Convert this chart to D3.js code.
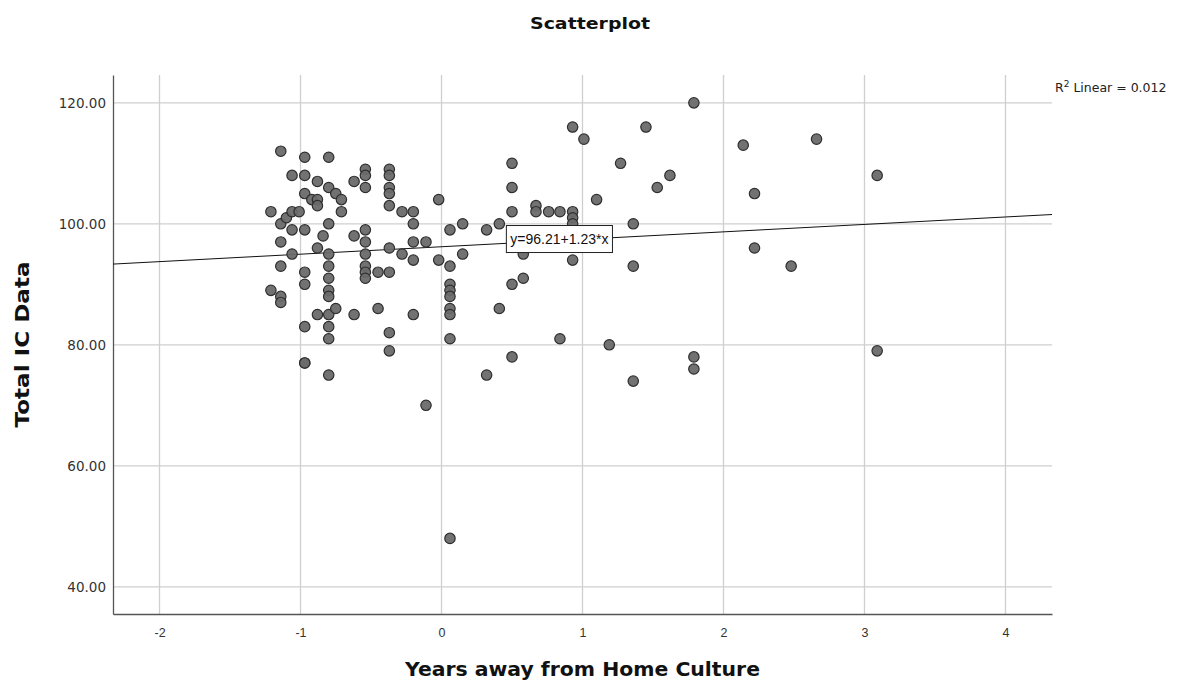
<!DOCTYPE html>
<html>
<head>
<meta charset="utf-8">
<script src="https://cdn.jsdelivr.net/npm/d3@7"></script>
<style>
  body { margin: 0; background: #fff; }
</style>
</head>
<body>
<div id="chart"></div>
<script>
// scatter values (years away, total IC)
const yearsAway = [
  -1.21, -1.21,
  -1.14, -1.14, -1.14, -1.14, -1.14, -1.14,
  -1.10,
  -1.06, -1.06, -1.06, -1.06,
  -1.01,
  -0.97, -0.97, -0.97, -0.97, -0.97, -0.97, -0.97, -0.97, -0.97,
  -0.92,
  -0.88, -0.88, -0.88, -0.88, -0.88,
  -0.84,
  -0.80, -0.80, -0.80, -0.80, -0.80, -0.80, -0.80, -0.80, -0.80, -0.80, -0.80, -0.80,
  -0.75, -0.75,
  -0.71, -0.71,
  -0.62, -0.62, -0.62,
  -0.54, -0.54, -0.54, -0.54, -0.54, -0.54, -0.54, -0.54, -0.54,
  -0.45, -0.45,
  -0.37, -0.37, -0.37, -0.37, -0.37, -0.37, -0.37, -0.37, -0.37,
  -0.28, -0.28,
  -0.20, -0.20, -0.20, -0.20, -0.20,
  -0.11, -0.11,
  -0.02, -0.02,
  0.06, 0.06, 0.06, 0.06, 0.06, 0.06, 0.06, 0.06, 0.06,
  0.15, 0.15,
  0.32, 0.32,
  0.41, 0.41,
  0.50, 0.50, 0.50, 0.50, 0.50,
  0.58, 0.58,
  0.67, 0.67,
  0.76,
  0.84, 0.84,
  0.93, 0.93, 0.93, 0.93, 0.93,
  1.01, 1.10, 1.19, 1.27,
  1.36, 1.36, 1.36,
  1.45, 1.53, 1.62,
  1.79, 1.79, 1.79,
  2.14,
  2.22, 2.22,
  2.48, 2.66,
  3.09, 3.09
];
const totalIC = [
  102, 89,
  112, 100, 97, 93, 88, 87,
  101,
  108, 102, 99, 95,
  102,
  111, 108, 105, 99, 92, 90, 83, 77, 77,
  104,
  107, 104, 103, 96, 85,
  98,
  111, 106, 100, 95, 93, 91, 89, 88, 85, 83, 81, 75,
  105, 86,
  104, 102,
  107, 98, 85,
  109, 108, 106, 99, 97, 95, 93, 92, 91,
  92, 86,
  109, 108, 106, 105, 103, 96, 92, 82, 79,
  102, 95,
  102, 100, 97, 94, 85,
  97, 70,
  104, 94,
  99, 93, 90, 89, 88, 86, 85, 81, 48,
  100, 95,
  99, 75,
  100, 86,
  110, 106, 102, 90, 78,
  95, 91,
  103, 102,
  102,
  102, 81,
  116, 102, 101, 100, 94,
  114, 104, 80, 110,
  100, 93, 74,
  116, 106, 108,
  120, 78, 76,
  113,
  105, 96,
  93, 114,
  108, 79
];

const xTicks = [-2, -1, 0, 1, 2, 3, 4];
const yTicks = [40, 60, 80, 100, 120];
const fitIntercept = 96.21;
const fitSlope = 1.23;
const fitLabel = 'y=96.21+1.23*x';
const rSquared = '0.012';

const W = 1197, H = 684;
const margin = { top: 75, right: 145, bottom: 70, left: 113 };
const plotW = W - margin.left - margin.right;
const plotH = H - margin.top - margin.bottom;
const sans = '"DejaVu Sans", sans-serif';

const svg = d3.select('#chart').append('svg')
  .attr('width', W)
  .attr('height', H);

const x = d3.scaleLinear().domain([-2.33, 4.33]).range([0, plotW]);
const y = d3.scaleLinear().domain([35.5, 124.6]).range([plotH, 0]);

const g = svg.append('g')
  .attr('transform', `translate(${margin.left},${margin.top})`);

// grid
g.selectAll('.vgrid').data(xTicks).enter().append('line')
  .attr('x1', d => x(d)).attr('x2', d => x(d))
  .attr('y1', 0).attr('y2', plotH)
  .attr('stroke', '#cfcfcf').attr('stroke-width', 1.3);
g.selectAll('.hgrid').data(yTicks).enter().append('line')
  .attr('x1', 0).attr('x2', plotW)
  .attr('y1', d => y(d)).attr('y2', d => y(d))
  .attr('stroke', '#cfcfcf').attr('stroke-width', 1.3);

// axes
const xAxis = g.append('g')
  .attr('transform', `translate(0,${plotH})`)
  .call(d3.axisBottom(x).tickValues(xTicks).tickSize(0).tickPadding(14).tickFormat(d => d < 0 ? '-' + Math.abs(d) : d));
const yAxis = g.append('g')
  .call(d3.axisLeft(y).tickValues(yTicks).tickSize(0).tickPadding(7).tickFormat(d3.format('.2f')));
[xAxis, yAxis].forEach(a => {
  a.select('.domain').attr('stroke', '#555').attr('stroke-width', 1.3);
  a.selectAll('text').attr('fill', '#333').attr('font-family', sans).attr('font-size', 13.5);
});
xAxis.selectAll('text').attr('font-size', 12.5)
  .attr('font-family', '"Liberation Sans Narrow", "Liberation Sans", sans-serif');

// fit line
const xd = x.domain();
g.append('line')
  .attr('x1', x(xd[0])).attr('y1', y(fitIntercept + fitSlope * xd[0]))
  .attr('x2', x(xd[1])).attr('y2', y(fitIntercept + fitSlope * xd[1]))
  .attr('stroke', '#111').attr('stroke-width', 1);

// points
const pts = yearsAway.map((v, i) => ({ x: v, y: totalIC[i] }));
g.selectAll('circle').data(pts).enter().append('circle')
  .attr('cx', d => x(d.x))
  .attr('cy', d => y(d.y))
  .attr('r', 5.2)
  .attr('fill', '#6a6a6a')
  .attr('fill-opacity', 0.95)
  .attr('stroke', '#2e2e2e')
  .attr('stroke-width', 1.2);

// fit label, box sized from the text
const labX = 0.46;
const labG = g.append('g')
  .attr('transform', `translate(${x(labX)},${y(fitIntercept + fitSlope * 0.5) - 4})`);
const labT = labG.append('text')
  .attr('x', 4).attr('y', 0)
  .attr('dy', '0.36em')
  .attr('font-size', 14)
  .attr('fill', '#111')
  .attr('font-family', '"Liberation Sans", sans-serif')
  .text(fitLabel);
const tw = labT.node().getComputedTextLength();
labG.insert('rect', 'text')
  .attr('x', 0).attr('y', -13.5)
  .attr('width', tw + 8).attr('height', 27)
  .attr('fill', '#fff').attr('stroke', '#222').attr('stroke-width', 1);

// R squared
const rt = svg.append('text')
  .attr('x', margin.left + plotW + 3)
  .attr('y', 92)
  .attr('font-size', 12.5)
  .attr('fill', '#222')
  .attr('font-family', sans);
rt.append('tspan').text('R');
rt.append('tspan').attr('dy', -5).attr('font-size', 9).text('2');
rt.append('tspan').attr('dy', 5).text(' Linear = ' + rSquared);

// titles
svg.append('text')
  .attr('x', 590)
  .attr('y', 29)
  .attr('text-anchor', 'middle')
  .attr('font-size', 16.5)
  .attr('font-weight', 'bold')
  .attr('font-family', sans)
  .attr('fill', '#111')
  .attr('textLength', 120)
  .attr('lengthAdjust', 'spacingAndGlyphs')
  .text('Scatterplot');
svg.append('text')
  .attr('x', margin.left + plotW / 2)
  .attr('y', 676)
  .attr('text-anchor', 'middle')
  .attr('font-size', 20)
  .attr('font-weight', 'bold')
  .attr('font-family', sans)
  .attr('fill', '#111')
  .attr('textLength', 355)
  .attr('lengthAdjust', 'spacingAndGlyphs')
  .text('Years away from Home Culture');
svg.append('text')
  .attr('transform', `translate(29,${margin.top + plotH / 2})rotate(-90)`)
  .attr('text-anchor', 'middle')
  .attr('font-size', 20)
  .attr('font-weight', 'bold')
  .attr('font-family', sans)
  .attr('fill', '#111')
  .attr('textLength', 166)
  .attr('lengthAdjust', 'spacingAndGlyphs')
  .text('Total IC Data');
</script>
</body>
</html>
